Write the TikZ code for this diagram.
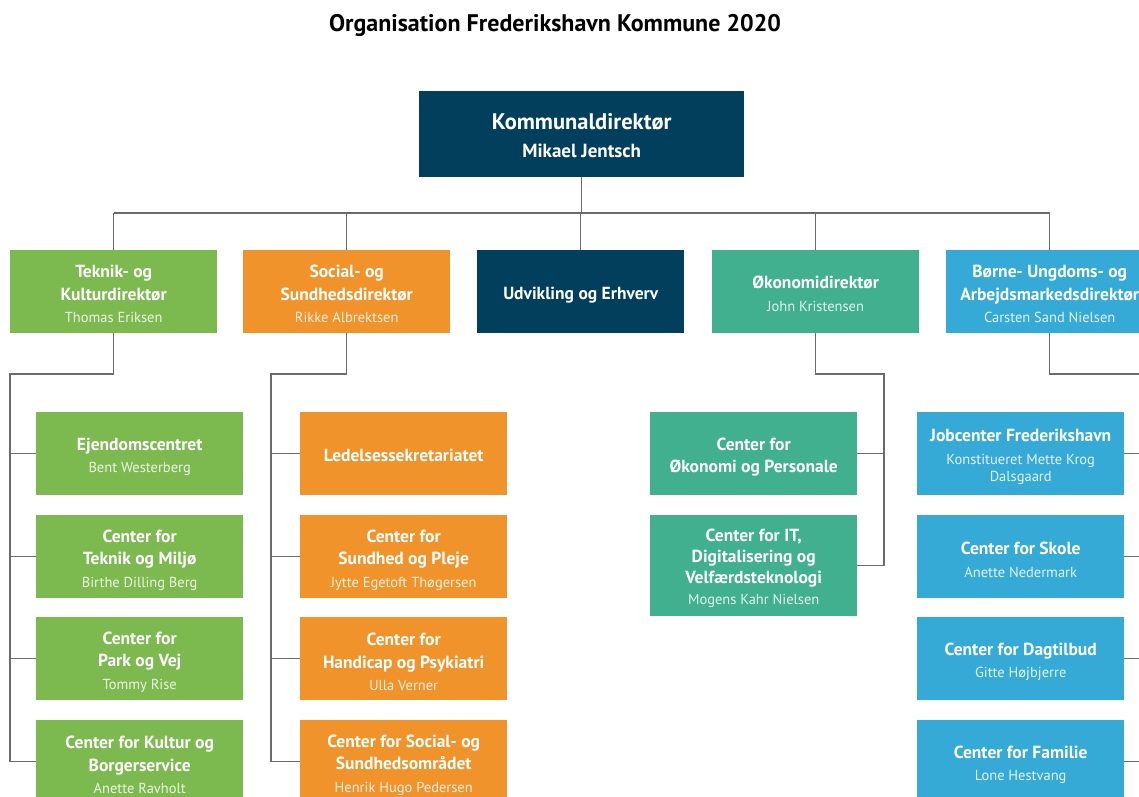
\documentclass[tikz,border=0pt]{standalone}
\usepackage{fontspec}
\setmainfont{PT Sans}
\definecolor{cnavy}{HTML}{013F5C}
\definecolor{cgreen}{HTML}{7CB94F}
\definecolor{corange}{HTML}{F0932B}
\definecolor{cteal}{HTML}{40B08F}
\definecolor{cblue}{HTML}{35AAD7}
\definecolor{cline}{HTML}{6B6B6B}
\gdef\bc{cnavy}
\newcommand{\nm}[1]{{\fontsize{14.5}{22.5}\selectfont\mdseries\color{white!86!\bc}#1}}
\tikzset{
  box/.style={rectangle, anchor=north west, minimum width=207pt, minimum height=83pt,
    inner sep=0pt, fill=#1},
  tx/.style={inner sep=0pt, text=white, align=center, font=\fontsize{17.5}{22.5}\selectfont\bfseries,
    execute at begin node={\gdef\bc{#1}}},
  conn/.style={draw=cline, line width=1.1pt},
}
\begin{document}
\begin{tikzpicture}[x=1pt,y=-1pt]
\useasboundingbox (0,0) rectangle (1139,796);
\node[font=\fontsize{24}{28}\selectfont\bfseries] (title) at (555,25) {Organisation Frederikshavn Kommune 2020};
\node[box=cnavy, minimum width=325pt, minimum height=86pt] (top) at (419,91) {};
\node[tx=cnavy, font=\fontsize{22.5}{28}\selectfont\bfseries, yshift=-1.5pt] (topt) at (top)
  {Kommunaldirektør\\{\fontsize{19}{28}\selectfont Mikael Jentsch}};
% directors
\node[box=cgreen] (d1) at (10,250) {};
\node[tx=cgreen, yshift=-2.2pt] (d1t) at (d1) {Teknik- og\\Kulturdirektør\\\nm{Thomas Eriksen}};
\node[box=corange] (d2) at (243,250) {};
\node[tx=corange, yshift=-2.2pt] (d2t) at (d2) {Social- og\\Sundhedsdirektør\\\nm{Rikke Albrektsen}};
\node[box=cnavy] (d3) at (477,250) {};
\node[tx=cnavy, yshift=-3pt] (d3t) at (d3) {Udvikling og Erhverv};
\node[box=cteal] (d4) at (712,250) {};
\node[tx=cteal, yshift=-2.2pt] (d4t) at (d4) {Økonomidirektør\\\nm{John Kristensen}};
\node[box=cblue] (d5) at (946,250) {};
\node[tx=cblue, yshift=-2.2pt] (d5t) at (d5) {Børne- Ungdoms- og\\Arbejdsmarkedsdirektør\\\nm{Carsten Sand Nielsen}};
% green column
\node[box=cgreen] (g1) at (36,412) {};
\node[tx=cgreen, yshift=-3.3pt] (g1t) at (g1) {Ejendomscentret\\\nm{Bent Westerberg}};
\node[box=cgreen] (g2) at (36,515) {};
\node[tx=cgreen, yshift=-3.2pt] (g2t) at (g2) {Center for\\Teknik og Miljø\\\nm{Birthe Dilling Berg}};
\node[box=cgreen] (g3) at (36,617) {};
\node[tx=cgreen, yshift=-3.2pt] (g3t) at (g3) {Center for\\Park og Vej\\\nm{Tommy Rise}};
\node[box=cgreen] (g4) at (36,720) {};
\node[tx=cgreen, yshift=-3.2pt] (g4t) at (g4) {Center for Kultur og\\Borgerservice\\\nm{Anette Ravholt}};
% orange column
\node[box=corange] (o1) at (300,412) {};
\node[tx=corange, yshift=-2pt] (o1t) at (o1) {Ledelsessekretariatet};
\node[box=corange] (o2) at (300,515) {};
\node[tx=corange, yshift=-3.2pt] (o2t) at (o2) {Center for\\Sundhed og Pleje\\\nm{Jytte Egetoft Thøgersen}};
\node[box=corange] (o3) at (300,617) {};
\node[tx=corange, yshift=-3.2pt] (o3t) at (o3) {Center for\\Handicap og Psykiatri\\\nm{Ulla Verner}};
\node[box=corange] (o4) at (300,720) {};
\node[tx=corange, yshift=-3.2pt] (o4t) at (o4) {Center for Social- og\\Sundhedsområdet\\\nm{Henrik Hugo Pedersen}};
% teal column
\node[box=cteal] (t1) at (650,412) {};
\node[tx=cteal, yshift=-3.2pt] (t1t) at (t1) {Center for\\Økonomi og Personale};
\node[box=cteal, minimum height=101pt] (t2) at (650,515) {};
\node[tx=cteal, font=\fontsize{17.5}{21}\selectfont\bfseries, yshift=-3pt] (t2t) at (t2)
  {Center for IT,\\Digitalisering og\\Velfærdsteknologi\\\nm{Mogens Kahr Nielsen}};
% blue column
\node[box=cblue] (b1) at (917,412) {};
\node[tx=cblue, yshift=-3.5pt] (b1t) at (b1) {Jobcenter Frederikshavn\\\nm{Konstitueret Mette Krog}\\[-5pt]\nm{Dalsgaard}};
\node[box=cblue] (b2) at (917,515) {};
\node[tx=cblue, yshift=-3.3pt] (b2t) at (b2) {Center for Skole\\\nm{Anette Nedermark}};
\node[box=cblue] (b3) at (917,617) {};
\node[tx=cblue, yshift=-3.3pt] (b3t) at (b3) {Center for Dagtilbud\\\nm{Gitte Højbjerre}};
\node[box=cblue] (b4) at (917,720) {};
\node[tx=cblue, yshift=-3.3pt] (b4t) at (b4) {Center for Familie\\\nm{Lone Hestvang}};
% connectors
\coordinate (bus) at (0,213);
\draw[conn] (top.south) -- (top.south |- bus);
\draw[conn] (d1.north |- bus) -- (d5.north |- bus);
\foreach \d in {d1,d2,d3,d4,d5} {\draw[conn] (\d.north) -- (\d.north |- bus);}
\coordinate (l1) at (10,374);
\coordinate (l2) at (271,374);
\coordinate (l4) at (884,374);
\coordinate (l5) at (1170,374);
\draw[conn] (d1.south) |- (l1) |- (g4.west);
\foreach \g in {g1,g2,g3} {\draw[conn] (\g.west) -- (\g.west -| l1);}
\draw[conn] (d2.south) |- (l2) |- (o4.west);
\foreach \g in {o1,o2,o3} {\draw[conn] (\g.west) -- (\g.west -| l2);}
\draw[conn] (d4.south) |- (l4) |- (t2.east);
\draw[conn] (t1.east) -- (t1.east -| l4);
\draw[conn] (d5.south) |- (l5);
\foreach \g in {b1,b2,b3,b4} {\draw[conn] (\g.east) -- (\g.east -| l5);}
\end{tikzpicture}
\end{document}
